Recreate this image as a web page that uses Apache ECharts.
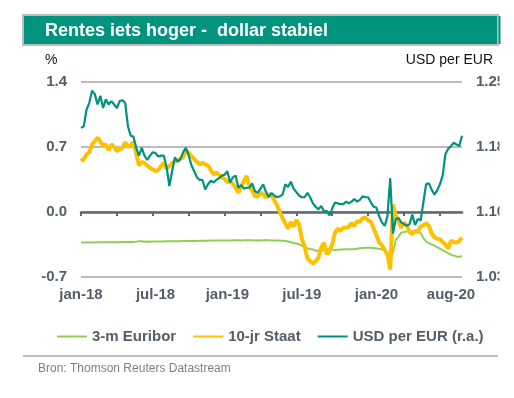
<!DOCTYPE html>
<html><head><meta charset="utf-8">
<script src="https://cdn.jsdelivr.net/npm/echarts@6/dist/echarts.min.js"></script>
<style>html,body{margin:0;padding:0;background:#fff}#c{width:514px;height:398px}</style>
</head><body><div id="c"></div>
<script>
const startDate = '2018-01-08';
const nWeeks = 139;
const tickDates = ['2018-01-08','2018-07-16','2019-01-14','2019-07-22','2020-01-27','2020-08-03'];
const tickLabels = ['jan-18','jul-18','jan-19','jul-19','jan-20','aug-20'];
const leftTicks = ['-0.7','0.0','0.7','1.4'];
const rightTicks = ['1.03','1.10','1.18','1.25'];

const euribor = [
-0.329,-0.329,-0.328,-0.328,-0.328,-0.328,-0.327,-0.327,-0.327,-0.326,
-0.326,-0.326,-0.325,-0.325,-0.324,-0.324,-0.323,-0.322,-0.322,-0.322,
-0.319,-0.314,-0.316,-0.321,-0.318,-0.320,-0.319,-0.318,-0.318,-0.317,
-0.317,-0.316,-0.316,-0.315,-0.315,-0.314,-0.314,-0.313,-0.313,-0.312,
-0.312,-0.311,-0.311,-0.310,-0.310,-0.309,-0.309,-0.308,-0.308,-0.308,
-0.307,-0.307,-0.306,-0.306,-0.306,-0.305,-0.305,-0.305,-0.306,-0.305,
-0.305,-0.304,-0.305,-0.306,-0.304,-0.306,-0.303,-0.302,-0.304,-0.306,
-0.306,-0.307,-0.308,-0.310,-0.312,-0.318,-0.325,-0.333,-0.340,-0.348,
-0.362,-0.378,-0.390,-0.398,-0.403,-0.415,-0.420,-0.419,-0.410,-0.402,
-0.402,-0.405,-0.408,-0.406,-0.404,-0.403,-0.402,-0.401,-0.401,-0.400,
-0.395,-0.390,-0.388,-0.386,-0.384,-0.386,-0.388,-0.392,-0.396,-0.400,
-0.420,-0.455,-0.490,-0.437,-0.300,-0.265,-0.222,-0.215,-0.210,-0.205,
-0.210,-0.215,-0.218,-0.225,-0.280,-0.320,-0.335,-0.348,-0.362,-0.378,
-0.395,-0.410,-0.428,-0.444,-0.459,-0.470,-0.478,-0.482,-0.476];

const staat10 = [
0.548,0.570,0.620,0.640,0.727,0.763,0.800,0.763,0.710,0.727,
0.667,0.727,0.700,0.656,0.674,0.690,0.750,0.700,0.720,0.755,
0.630,0.500,0.540,0.525,0.500,0.474,0.459,0.441,0.452,0.495,
0.530,0.467,0.495,0.525,0.545,0.558,0.570,0.590,0.656,0.638,
0.600,0.570,0.537,0.512,0.530,0.512,0.500,0.452,0.405,0.423,
0.401,0.369,0.358,0.323,0.333,0.305,0.262,0.208,0.269,0.333,
0.387,0.280,0.226,0.172,0.165,0.208,0.190,0.158,0.190,0.179,
0.129,0.072,0.000,-0.068,-0.122,-0.179,-0.108,-0.158,-0.086,-0.133,
-0.294,-0.366,-0.502,-0.527,-0.556,-0.530,-0.491,-0.384,-0.330,-0.455,
-0.419,-0.348,-0.222,-0.179,-0.204,-0.169,-0.169,-0.161,-0.122,-0.150,
-0.100,-0.104,-0.068,-0.061,-0.090,-0.104,-0.179,-0.251,-0.330,-0.358,
-0.409,-0.455,-0.620,0.080,-0.043,-0.100,-0.169,-0.115,-0.143,-0.215,
-0.240,-0.204,-0.215,-0.158,-0.143,-0.122,-0.150,-0.229,-0.272,-0.287,
-0.294,-0.323,-0.348,-0.391,-0.312,-0.323,-0.330,-0.312,-0.276];

const usdEur = [
1.197,1.199,1.218,1.226,1.240,1.236,1.224,1.234,1.220,1.230,
1.224,1.228,1.224,1.220,1.228,1.229,1.226,1.199,1.188,1.187,
1.174,1.165,1.174,1.165,1.160,1.165,1.169,1.168,1.164,1.165,
1.165,1.152,1.130,1.147,1.163,1.158,1.161,1.169,1.174,1.165,
1.154,1.147,1.140,1.137,1.137,1.126,1.132,1.136,1.134,1.137,
1.139,1.142,1.143,1.147,1.134,1.140,1.142,1.128,1.131,1.127,
1.128,1.128,1.133,1.124,1.122,1.127,1.132,1.123,1.117,1.122,
1.119,1.117,1.118,1.120,1.132,1.129,1.135,1.127,1.123,1.119,
1.117,1.117,1.122,1.117,1.110,1.106,1.103,1.107,1.101,1.101,
1.096,1.104,1.111,1.110,1.109,1.109,1.112,1.110,1.112,1.115,
1.112,1.114,1.118,1.117,1.117,1.111,1.106,1.105,1.095,1.088,
1.084,1.095,1.139,1.075,1.092,1.093,1.088,1.086,1.084,1.086,
1.097,1.085,1.092,1.090,1.111,1.132,1.133,1.126,1.120,1.125,
1.132,1.142,1.167,1.173,1.176,1.180,1.178,1.176,1.188];

const dates = [];
for (let i = 0; i < nWeeks; i++) {
  const d = new Date(Date.parse(startDate + 'T00:00:00Z') + i * 7 * 86400000);
  dates.push(d.toISOString().slice(0, 10));
}

const FONT = '"Liberation Sans", Arial, sans-serif';
const axisColor = '#545E68';
const teal = '#00917F';

const chart = echarts.init(document.getElementById('c'));
chart.setOption({
  animation: false,
  textStyle: { fontFamily: FONT },
  grid: { left: 81, right: 52, top: 82, bottom: 121 },
  legend: {
    left: 51, top: 324, itemWidth: 30, itemHeight: 12, itemGap: 16,
    itemStyle: { opacity: 0 },
    textStyle: { fontSize: 15, fontWeight: 'bold', color: axisColor, fontFamily: FONT },
    data: ['3-m Euribor', '10-jr Staat', 'USD per EUR (r.a.)']
  },
  xAxis: [
    {
      type: 'category', data: dates, boundaryGap: false, position: 'bottom',
      axisLine: { onZero: true, onZeroAxisIndex: 0, lineStyle: { color: '#5E6870', width: 2.5 } },
      axisTick: { show: true, interval: 12, length: 4, lineStyle: { color: '#5E6870', width: 2 } },
      axisLabel: { show: false }, splitLine: { show: false }
    },
    {
      type: 'category', data: dates, boundaryGap: false, position: 'bottom',
      axisLine: { show: false, onZero: false }, axisTick: { show: false },
      axisLabel: {
        interval: (i, v) => tickDates.includes(v),
        formatter: v => tickLabels[tickDates.indexOf(v)],
        fontSize: 15, fontWeight: 'bold', color: axisColor, margin: 10, fontFamily: FONT
      },
      splitLine: { show: false }
    }
  ],
  yAxis: [
    {
      type: 'value', min: -0.7, max: 1.4, interval: 0.7, position: 'left',
      axisLine: { show: false }, axisTick: { show: false },
      axisLabel: { formatter: (v, i) => leftTicks[i], fontSize: 15, fontWeight: 'bold', color: axisColor, margin: 14, fontFamily: FONT },
      splitLine: { show: true, lineStyle: { color: '#A6A6A6', width: 1.5 } }
    },
    {
      type: 'value', min: 1.025, max: 1.25, interval: 0.075, position: 'right',
      axisLine: { show: false }, axisTick: { show: false },
      axisLabel: { formatter: (v, i) => rightTicks[i], fontSize: 15, fontWeight: 'bold', color: axisColor, margin: 14, fontFamily: FONT },
      splitLine: { show: false }
    }
  ],
  series: [
    { name: '3-m Euribor', type: 'line', data: euribor, xAxisIndex: 0, yAxisIndex: 0, symbol: 'none', lineStyle: { color: '#8FD14F', width: 2 }, itemStyle: { color: '#8FD14F' } },
    { name: '10-jr Staat', type: 'line', data: staat10, xAxisIndex: 0, yAxisIndex: 0, symbol: 'none', lineStyle: { color: '#FFC000', width: 4 }, itemStyle: { color: '#FFC000' } },
    { name: 'USD per EUR (r.a.)', type: 'line', data: usdEur, xAxisIndex: 0, yAxisIndex: 1, symbol: 'none', lineStyle: { color: teal, width: 2.2 }, itemStyle: { color: teal } }
  ],
  graphic: [
    { type: 'rect', shape: { x: 23, y: 15, width: 475, height: 30 }, style: { fill: '#00947F', stroke: '#BDBDBD', lineWidth: 2 } },
    { type: 'rect', shape: { x: 498.5, y: 16, width: 2, height: 28 }, style: { fill: '#00947F' } },
    { type: 'text', x: 45, y: 31, style: { text: 'Rentes iets hoger -  dollar stabiel', fill: '#ffffff', font: 'bold 18px ' + FONT, textVerticalAlign: 'middle', verticalAlign: 'middle' } },
    { type: 'text', x: 45, y: 60, style: { text: '%', fill: '#111', font: '14px ' + FONT, textVerticalAlign: 'middle', verticalAlign: 'middle' } },
    { type: 'text', x: 493, y: 60, style: { text: 'USD per EUR', fill: '#111', font: '14px ' + FONT, textAlign: 'right', align: 'right', textVerticalAlign: 'middle', verticalAlign: 'middle' } },
    { type: 'rect', z: 100, shape: { x: 499.5, y: 70, width: 15, height: 220 }, style: { fill: '#ffffff' } },
    { type: 'line', shape: { x1: 23, y1: 356, x2: 498, y2: 356 }, style: { stroke: '#BFBFBF', lineWidth: 2 } },
    { type: 'text', x: 38, y: 369, style: { text: 'Bron: Thomson Reuters Datastream', fill: '#808080', font: '12px ' + FONT, textVerticalAlign: 'middle', verticalAlign: 'middle' } }
  ]
});
</script>
</body></html>
